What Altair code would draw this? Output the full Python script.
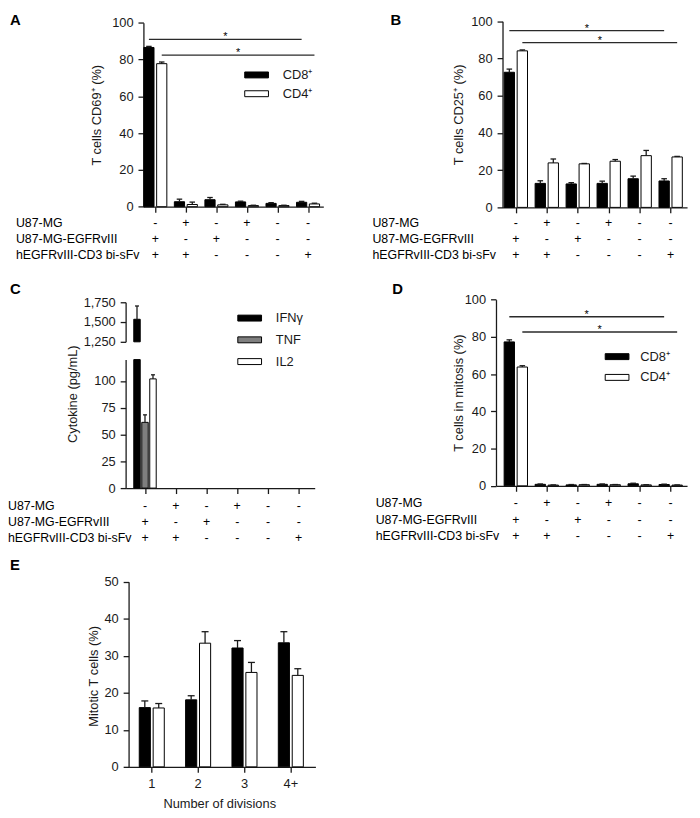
import altair as alt
import pandas as pd

FONT = "Liberation Sans"
INK = "#1a1a1a"
TOTAL_W, TOTAL_H = 692, 806

# ---------------- data ----------------
row_names = ["U87-MG", "U87-MG-EGFRvIII", "hEGFRvIII-CD3 bi-sFv"]
row_u87 = ["-", "+", "-", "+", "-", "-"]
row_egfr = ["+", "-", "+", "-", "-", "-"]
row_bisfv = ["+", "+", "-", "-", "-", "+"]
sig_mark = "*"

cell_series = ["CD8⁺", "CD4⁺"]
cell_colors = ["#000000", "#ffffff"]

a_cd8 = [86.6, 2.7, 3.8, 2.6, 1.8, 2.4]
a_cd8_err = [0.6, 1.4, 1.2, 0.4, 0.4, 0.5]
a_cd4 = [77.8, 1.2, 1.0, 0.6, 0.6, 1.5]
a_cd4_err = [0.9, 1.3, 0.3, 0.2, 0.2, 0.4]
a_sig_y = [91.0, 82.4]

b_cd8 = [72.6, 12.9, 12.6, 12.9, 15.4, 14.2]
b_cd8_err = [1.7, 1.4, 0.7, 1.2, 1.4, 1.2]
b_cd4 = [84.1, 23.9, 23.4, 24.8, 27.8, 27.1]
b_cd4_err = [0.5, 2.1, 0.2, 0.9, 2.8, 0.3]
b_sig_y = [95.0, 88.5]

pct_ticks = [0, 20, 40, 60, 80, 100]

cyto_series = ["IFNγ", "TNF", "IL2"]
cyto_colors = ["#000000", "#7f7f7f", "#ffffff"]
c_ifng = [1535, 0, 0, 0, 0, 0]
c_ifng_err = [168, 0, 0, 0, 0, 0]
c_tnf = [61.4, 0, 0, 0, 0, 0]
c_tnf_err = [7.0, 0, 0, 0, 0, 0]
c_il2 = [102.0, 0, 0, 0, 0, 0]
c_il2_err = [3.8, 0, 0, 0, 0, 0]
c_low_ticks = [0, 25, 50, 75, 100]
c_high_ticks = [1250, 1500, 1750]
c_low_dom = [0, 120]
c_high_dom = [1250, 1750]

d_cd8 = [77.3, 0.8, 0.5, 0.8, 1.1, 0.7]
d_cd8_err = [1.1, 0.2, 0.2, 0.2, 0.3, 0.2]
d_cd4 = [63.8, 0.4, 0.6, 0.6, 0.5, 0.4]
d_cd4_err = [0.7, 0.1, 0.1, 0.1, 0.1, 0.1]
d_sig_y = [90.8, 82.6]

e_divisions = ["1", "2", "3", "4+"]
e_cd8 = [16.0, 18.1, 32.1, 33.5]
e_cd8_err = [1.8, 1.1, 2.0, 3.0]
e_cd4 = [15.9, 33.4, 25.5, 24.7]
e_cd4_err = [1.2, 3.1, 2.7, 1.8]
e_ticks = [0, 10, 20, 30, 40, 50]


# ---------------- helpers ----------------
def series_frame(names, values, errors):
    recs = []
    for k, (name, vals, errs) in enumerate(zip(names, values, errors)):
        for i, (v, e) in enumerate(zip(vals, errs)):
            recs.append({"series": name, "k": k, "cond": i, "value": v, "err": e})
    return pd.DataFrame(recs)


def table_frame():
    recs = []
    for name, signs in zip(row_names, [row_u87, row_egfr, row_bisfv]):
        for i, s in enumerate(signs):
            recs.append({"row": name, "cond": i, "sign": s})
    return pd.DataFrame(recs)


def xsc(g):
    return alt.Scale(domain=g["xdom"], range=[g["xr"][0] + g["ox"], g["xr"][1] + g["ox"]],
                     nice=False, zero=False)


def ysc(g, dom, rng):
    return alt.Scale(domain=dom, range=[rng[0] + g["oy"], rng[1] + g["oy"]],
                     nice=False, zero=False)


def x_axis(g, n, title=None, tpos=None):
    kw = dict(values=list(range(n)), grid=False, orient="bottom", labels=False,
              offset=round(g["oy"] + g["xaxis_y"] - TOTAL_H, 2), tickSize=5.5)
    if title:
        kw.update(title=title, titleX=tpos[0] + g["ox"], titleY=tpos[1],
                  titleBaseline="middle", titleAlign="center")
    else:
        kw["title"] = None
    return alt.Axis(**kw)


def y_axis(g, ticks, title=None, fmt="d"):
    kw = dict(values=ticks, format=fmt, orient="left",
              offset=-(g["xr"][0] + g["ox"]),
              tickSize=5.5, labelPadding=5, grid=False)
    if title:
        tx, ty = g["ytitle"]
        kw.update(title=title, titleX=tx, titleY=ty + g["oy"], titleAngle=270,
                  titleBaseline="middle", titleAlign="center")
    else:
        kw["title"] = None
    return alt.Axis(**kw)


def make_legend(g):
    lx, ly, lo, rp = g["legend"]
    return alt.Legend(orient="none", legendX=lx + g["ox"], legendY=ly + g["oy"],
                      title=None, direction="vertical",
                      symbolType="M-2,-0.5H2V0.5H-2Z",
                      symbolSize=144, symbolStrokeColor="black",
                      symbolStrokeWidth=1, labelFont=FONT, labelFontSize=13,
                      labelColor=INK, labelOffset=lo, rowPadding=rp, padding=0)


def bar_base(df, g, nser):
    mid = (nser - 1) / 2
    return (alt.Chart(df)
            .transform_filter("datum.value > 0")
            .transform_calculate(xc=f"datum.cond + (datum.k - {mid}) * {g['sp']}")
            .transform_calculate(x0=f"datum.xc - {g['hw']}")
            .transform_calculate(x1=f"datum.xc + {g['hw']}")
            .transform_calculate(cx0=f"datum.xc - {g['cap']}")
            .transform_calculate(cx1=f"datum.xc + {g['cap']}")
            .transform_calculate(top="datum.value + datum.err")
            .transform_calculate(zero="0"))


def err_layers(base, g, yscale):
    eb = base.transform_filter("datum.err > 0")
    stems = eb.mark_rule(color=INK, strokeWidth=1.3).encode(
        x=alt.X("xc:Q", scale=xsc(g), axis=None),
        y=alt.Y("value:Q", scale=yscale, axis=None),
        y2="top")
    caps = eb.mark_rule(color=INK, strokeWidth=1.3).encode(
        x=alt.X("cx0:Q", scale=xsc(g), axis=None), x2="cx1",
        y=alt.Y("top:Q", scale=yscale, axis=None))
    return [stems, caps]


def sig_layers(g, yvals, yscale):
    df = pd.DataFrame({"k": [0, 1], "c0": [0, 0], "c1": [5, 5], "yv": yvals,
                       "mark": [sig_mark, sig_mark]})
    base = (alt.Chart(df)
            .transform_calculate(xa=f"datum.c0 + (datum.k - 0.5) * {g['sp']}")
            .transform_calculate(xb=f"datum.c1 + (datum.k - 0.5) * {g['sp']}")
            .transform_calculate(xm="(datum.xa + datum.xb) / 2"))
    line = base.mark_rule(color="#2a2a2a", strokeWidth=1.3).encode(
        x=alt.X("xa:Q", scale=xsc(g), axis=None), x2="xb",
        y=alt.Y("yv:Q", scale=yscale, axis=None))
    star = base.mark_text(font=FONT, fontSize=11, baseline="alphabetic", dy=1,
                          color="black").encode(
        x=alt.X("xm:Q", scale=xsc(g), axis=None),
        y=alt.Y("yv:Q", scale=yscale, axis=None),
        text="mark:N")
    return [line, star]


def table_layers(g):
    yrow = alt.Scale(domain=row_names,
                     range=[g["rows"][0] + g["oy"], g["rows"][1] + g["oy"]], padding=0)
    signs = alt.Chart(table_frame()).mark_text(
        font=FONT, fontSize=12.5, color="black", baseline="middle").encode(
        x=alt.X("cond:Q", scale=xsc(g), axis=None),
        y=alt.Y("row:N", scale=yrow, axis=None),
        text="sign:N")
    labels = alt.Chart(pd.DataFrame({"row": row_names})).mark_text(
        font=FONT, fontSize=12.5, color="black", baseline="middle", align="left").encode(
        x=alt.value(g["label_x"] + g["ox"]),
        y=alt.Y("row:N", scale=yrow, axis=None),
        text="row:N")
    return [signs, labels]


def letter_layer(txt, g):
    return alt.Chart(pd.DataFrame({"t": [txt]})).mark_text(
        font=FONT, fontSize=15, fontWeight="bold", align="left",
        baseline="alphabetic", color="black").encode(
        x=alt.value(g["letter"][0] + g["ox"]), y=alt.value(g["letter"][1] + g["oy"]),
        text="t:N")


def cell_panel(letter, g, cd8, cd8e, cd4, cd4e, sig_y, ytitle, legend):
    df = series_frame(cell_series, [cd8, cd4], [cd8e, cd4e])
    ys = ysc(g, [0, 100], [g["xaxis_y"], g["ytop"]])
    base = bar_base(df, g, 2)
    bars = base.mark_bar(stroke="black", strokeWidth=1).encode(
        x=alt.X("x0:Q", scale=xsc(g), axis=x_axis(g, 6)), x2="x1",
        y=alt.Y("value:Q", scale=ys, axis=y_axis(g, pct_ticks, ytitle)),
        y2="zero",
        fill=alt.Fill("series:N", scale=alt.Scale(domain=cell_series, range=cell_colors),
                      legend=make_legend(g) if legend else None))
    return [bars] + err_layers(base, g, ys) + sig_layers(g, sig_y, ys) \
        + table_layers(g) + [letter_layer(letter, g)]


# ---------------- geometry (pixels inside each panel; ox/oy = panel origin) ----------------
# sp = distance between neighbouring bar centres in a group (x units)
gA = dict(ox=0, oy=0, xr=[137, 319], xdom=[-0.39, 5.5], xaxis_y=196.3, ytop=10.3,
          sp=0.42, hw=0.167, cap=0.09, rows=[213, 245], label_x=8,
          letter=[2, 12], ytitle=[-47.5, 103.3], legend=[245, 56.5, 20, 5])
gB = dict(ox=332, oy=0, xr=[168.3, 355], xdom=[-0.43, 5.53], xaxis_y=197, ytop=8.7,
          sp=0.42, hw=0.167, cap=0.09, rows=[213, 245], label_x=36.7,
          letter=[55, 12], ytitle=[-44.3, 102.9], legend=None)
gC = dict(ox=0, oy=254, xr=[119, 310.3], xdom=[-0.63, 5.52], xaxis_y=227,
          low_top=97, high_rng=[79, 39],
          sp=0.26, hw=0.105, cap=0.065, rows=[244.7, 277.5], label_x=0,
          letter=[2, 31], ytitle=[-53.2, 131.5], legend=[238, 48.5, 20, 8])
gD = dict(ox=332, oy=254, xr=[161.7, 355], xdom=[-0.64, 5.53], xaxis_y=224.7, ytop=36.3,
          sp=0.42, hw=0.167, cap=0.09, rows=[242.3, 275.5], label_x=40,
          letter=[56.7, 31], ytitle=[-37.5, 130.4], legend=[277.7, 87.5, 17, 7])
gE = dict(ox=0, oy=540, xr=[122, 311], xdom=[-0.5, 3.53], xaxis_y=223, ytop=35.7,
          sp=0.30, hw=0.12, cap=0.075, letter=[2, 23.7], ytitle=[-35.8, 131],
          xtitle=[213.7, 37], xlab_y=240)

# ---------------- panels ----------------
layers = []
layers += cell_panel("A", gA, a_cd8, a_cd8_err, a_cd4, a_cd4_err, a_sig_y,
                     "T cells CD69⁺ (%)", True)
layers += cell_panel("B", gB, b_cd8, b_cd8_err, b_cd4, b_cd4_err, b_sig_y,
                     "T cells CD25⁺ (%)", False)
layers += cell_panel("D", gD, d_cd8, d_cd8_err, d_cd4, d_cd4_err, d_sig_y,
                     "T cells in mitosis (%)", True)

# panel C with broken axis
c_df = series_frame(cyto_series, [c_ifng, c_tnf, c_il2], [c_ifng_err, c_tnf_err, c_il2_err])
ys_low = ysc(gC, c_low_dom, [gC["xaxis_y"], gC["low_top"]])
ys_high = ysc(gC, c_high_dom, gC["high_rng"])
c_base = bar_base(c_df, gC, 3)
c_low = c_base.transform_calculate(vlow=f"min(datum.value, {c_low_dom[1]})")
c_low_bars = c_low.mark_bar(stroke="black", strokeWidth=1).encode(
    x=alt.X("x0:Q", scale=xsc(gC), axis=x_axis(gC, 6)), x2="x1",
    y=alt.Y("vlow:Q", scale=ys_low, axis=y_axis(gC, c_low_ticks, "Cytokine (pg/mL)")),
    y2="zero",
    fill=alt.Fill("series:N", scale=alt.Scale(domain=cyto_series, range=cyto_colors),
                  legend=make_legend(gC)))
c_high = c_base.transform_filter(f"datum.value > {c_high_dom[0]}").transform_calculate(
    hbase=str(c_high_dom[0]))
c_high_bars = c_high.mark_bar(stroke="black", strokeWidth=1, fill="black").encode(
    x=alt.X("x0:Q", scale=xsc(gC), axis=None), x2="x1",
    y=alt.Y("value:Q", scale=ys_high, axis=y_axis(gC, c_high_ticks, None, fmt=",d")),
    y2="hbase")
layers += [c_low_bars, c_high_bars]
layers += err_layers(c_base.transform_filter(f"datum.value <= {c_low_dom[1]}"), gC, ys_low)
layers += err_layers(c_high, gC, ys_high)
layers += table_layers(gC) + [letter_layer("C", gC)]

# panel E
e_df = series_frame(cell_series, [e_cd8, e_cd4], [e_cd8_err, e_cd4_err])
ys_e = ysc(gE, [0, 50], [gE["xaxis_y"], gE["ytop"]])
e_base = bar_base(e_df, gE, 2)
e_bars = e_base.mark_bar(stroke="black", strokeWidth=1).encode(
    x=alt.X("x0:Q", scale=xsc(gE),
            axis=x_axis(gE, 4, "Number of divisions", gE["xtitle"])),
    x2="x1",
    y=alt.Y("value:Q", scale=ys_e, axis=y_axis(gE, e_ticks, "Mitotic T cells (%)")),
    y2="zero",
    fill=alt.Fill("series:N", scale=alt.Scale(domain=cell_series, range=cell_colors),
                  legend=None))
e_xlabels = alt.Chart(pd.DataFrame({"cond": list(range(len(e_divisions))),
                                    "lab": e_divisions})).mark_text(
    font=FONT, fontSize=13, color=INK, baseline="middle").encode(
    x=alt.X("cond:Q", scale=xsc(gE), axis=None),
    y=alt.value(gE["xlab_y"] + gE["oy"]), text="lab:N")
layers += [e_bars] + err_layers(e_base, gE, ys_e) + [e_xlabels, letter_layer("E", gE)]

chart = (alt.layer(*layers)
         .resolve_scale(x="independent", y="independent", fill="independent")
         .properties(width=TOTAL_W, height=TOTAL_H, padding=0)
         .configure_view(stroke=None)
         .configure_axis(labelFont=FONT, labelFontSize=13, labelColor=INK,
                         titleFont=FONT, titleFontSize=13, titleFontWeight="normal",
                         titleColor=INK, domainColor=INK, tickColor=INK,
                         domainWidth=1.3, tickWidth=1.3))

chart.save("out.html", embed_options={"renderer": "svg", "actions": False})
